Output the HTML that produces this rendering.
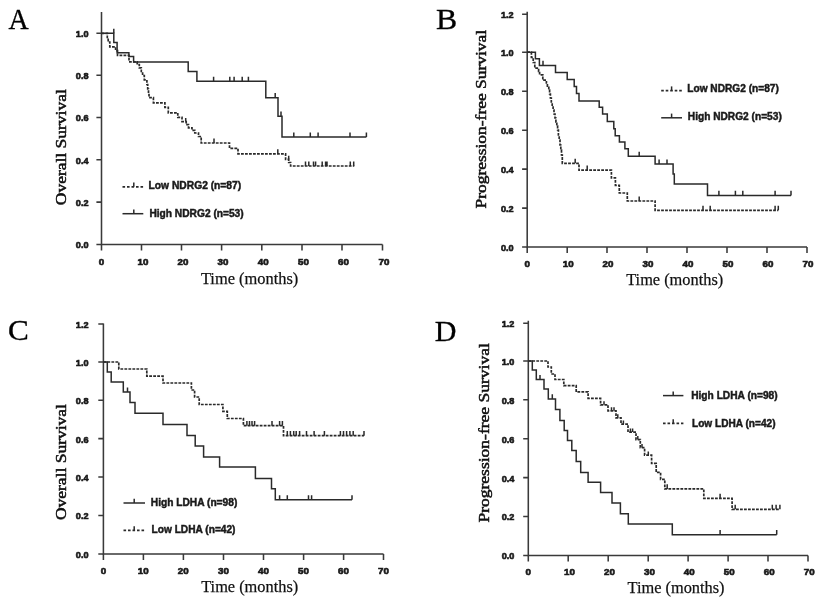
<!DOCTYPE html>
<html><head><meta charset="utf-8"><title>Kaplan-Meier survival curves</title>
<style>
html,body{margin:0;padding:0;background:#fff;}
body{width:822px;height:604px;overflow:hidden;font-family:"Liberation Sans",sans-serif;}
svg{display:block;will-change:transform;opacity:0.999;filter:blur(0.35px)}
.ax{fill:none;stroke:#3a3a3a;stroke-width:1.55}
.cs{fill:none;stroke:#2a2a2a;stroke-width:1.5;stroke-linejoin:miter}
.cd{fill:none;stroke:#2a2a2a;stroke-width:1.7;stroke-dasharray:2.8 1.2}
.tk{font-family:"Liberation Sans",sans-serif;font-weight:bold;font-size:9.5px;fill:#1a1a1a;stroke:#1a1a1a;stroke-width:0.65px}
.lg{font-family:"Liberation Sans",sans-serif;font-weight:bold;font-size:10px;fill:#1a1a1a;stroke:#1a1a1a;stroke-width:0.45px}
.ttl{font-family:"Liberation Serif",serif;font-size:17.5px;fill:#111;stroke:#111;stroke-width:0.25px}
.yt{font-size:15.4px;stroke-width:0.5px}
.pl{font-family:"Liberation Serif",serif;font-size:30px;fill:#000;stroke:#000;stroke-width:0.3px}
</style></head>
<body>
<svg width="822" height="604" viewBox="0 0 822 604">
<rect width="822" height="604" fill="#ffffff"/>
<text transform="translate(8.6 29.3) scale(0.93 1)" class="pl">A</text>
<path d="M101.5 12V244.5H382.5" class="ax"/>
<path d="M96.4 33.3H101.5M96.4 75.3H101.5M96.4 117.4H101.5M96.4 159.8H101.5M96.4 202.1H101.5M96.4 244.5H101.5M101.5 244.5v5.9M141.5 244.5v5.9M181.5 244.5v5.9M221.6 244.5v5.9M261.8 244.5v5.9M302 244.5v5.9M342 244.5v5.9M382.5 244.5v5.9" class="ax"/>
<text transform="translate(88.5 37.2) scale(0.96 1)" class="tk" text-anchor="end">1.0</text>
<text transform="translate(88.5 79.2) scale(0.96 1)" class="tk" text-anchor="end">0.8</text>
<text transform="translate(88.5 121.3) scale(0.96 1)" class="tk" text-anchor="end">0.6</text>
<text transform="translate(88.5 163.7) scale(0.96 1)" class="tk" text-anchor="end">0.4</text>
<text transform="translate(88.5 206.0) scale(0.96 1)" class="tk" text-anchor="end">0.2</text>
<text transform="translate(88.5 248.4) scale(0.96 1)" class="tk" text-anchor="end">0.0</text>
<text transform="translate(101.5 264.6) scale(1.03 1)" class="tk" text-anchor="middle">0</text>
<text transform="translate(142.9 264.6) scale(1.03 1)" class="tk" text-anchor="middle">10</text>
<text transform="translate(182.9 264.6) scale(1.03 1)" class="tk" text-anchor="middle">20</text>
<text transform="translate(223.0 264.6) scale(1.03 1)" class="tk" text-anchor="middle">30</text>
<text transform="translate(263.2 264.6) scale(1.03 1)" class="tk" text-anchor="middle">40</text>
<text transform="translate(303.4 264.6) scale(1.03 1)" class="tk" text-anchor="middle">50</text>
<text transform="translate(343.4 264.6) scale(1.03 1)" class="tk" text-anchor="middle">60</text>
<text transform="translate(383.9 264.6) scale(1.03 1)" class="tk" text-anchor="middle">70</text>
<text transform="translate(65.9 147.2) rotate(-90)" class="ttl yt" text-anchor="middle" textLength="116" lengthAdjust="spacingAndGlyphs">Overall Survival</text>
<text x="249.6" y="283.5" class="ttl" text-anchor="middle" textLength="97.4" lengthAdjust="spacingAndGlyphs">Time (months)</text>
<path d="M101.5 33.3 L113.8 33.3 L113.8 42.6 L117.1 42.6 L117.1 52.7 L128.9 52.7 L128.9 56.6 L133.6 56.6 L133.6 62.0 L188.2 62.0 L188.2 71.6 L196.9 71.6 L196.9 81.3 L265.8 81.3 L265.8 97.7 L278.0 97.7 L278.0 116.2 L282.0 116.2 L282.0 137.0 L366.4 137.0" class="cs"/>
<path d="M113.8 33.3v-4.6M213.6 81.3v-4.6M229.8 81.3v-4.6M234.1 81.3v-4.6M242.2 81.3v-4.6M248.4 81.3v-4.6M275.2 97.7v-4.6M281.0 116.2v-4.6M293.8 137.0v-4.6M310.3 137.0v-4.6M318.1 137.0v-4.6M350.0 137.0v-4.6M366.4 137.0v-4.6" class="cs"/>
<path d="M101.5 33.3 L107.3 33.3 L107.3 37.5 L108.2 37.5 L108.2 42.0 L109.8 42.0 L109.8 46.8 L115.6 46.8 L115.6 50.5 L117.5 50.5 L117.5 55.3 L129.0 55.3 L129.0 61.8 L137.2 61.8 L137.2 64.5 L139.3 64.5 L139.3 67.8 L141.3 67.8 L141.3 71.5 L142.6 71.5 L142.6 75.5 L144.3 75.5 L144.3 79.8 L146.9 79.8 L146.9 84.5 L147.7 84.5 L147.7 89.0 L148.5 89.0 L148.5 93.5 L149.0 93.5 L149.0 97.7 L153.4 97.7 L153.4 102.8 L164.9 102.8 L164.9 107.4 L168.3 107.4 L168.3 112.8 L177.8 112.8 L177.8 117.4 L182.0 117.4 L182.0 121.6 L186.2 121.6 L186.2 124.6 L188.5 124.6 L188.5 127.8 L192.0 127.8 L192.0 130.4 L194.8 130.4 L194.8 133.0 L198.5 133.0 L198.5 136.5 L201.2 136.5 L201.2 143.0 L229.5 143.0 L229.5 148.4 L238.0 148.4 L238.0 153.8 L285.6 153.8 L285.6 159.3 L288.7 159.3 L288.7 162.5 L290.6 162.5 L290.6 166.0 L354.3 166.0" class="cd"/>
<path d="M185.7 121.6v-3.5M214.0 143.0v-4.6M277.8 153.8v-4.6M288.7 159.3v-3.5M305.5 166.0v-4.6M308.8 166.0v-4.6M313.5 166.0v-4.6M315.6 166.0v-4.6M322.2 166.0v-4.6M325.6 166.0v-4.6M327.0 166.0v-4.6M350.3 166.0v-4.6M353.7 166.0v-4.6" class="cs"/>
<path d="M122.5 186.8H143.3" class="cd" style="stroke-dasharray:2.6 1.9"/>
<path d="M133.8 186.8v-4.2" class="cs"/>
<text x="148.6" y="189.2" class="lg" textLength="92.6" lengthAdjust="spacingAndGlyphs">Low NDRG2 (n=87)</text>
<path d="M122.5 213.7H143.3" class="cs"/>
<path d="M133.8 213.7v-4.2" class="cs"/>
<text x="149.4" y="216.7" class="lg" textLength="94.3" lengthAdjust="spacingAndGlyphs">High NDRG2 (n=53)</text>
<text transform="translate(436 29.3) scale(1.06 1)" class="pl">B</text>
<path d="M527.2 11.7V247H807" class="ax"/>
<path d="M522.1 14.2H527.2M522.1 52.2H527.2M522.1 91.2H527.2M522.1 130.2H527.2M522.1 169.1H527.2M522.1 208.1H527.2M522.1 247H527.2M527.2 247v5.9M567.2 247v5.9M607 247v5.9M647 247v5.9M687 247v5.9M727 247v5.9M767 247v5.9M807 247v5.9" class="ax"/>
<text transform="translate(513.7 18.1) scale(0.96 1)" class="tk" text-anchor="end">1.2</text>
<text transform="translate(513.7 56.1) scale(0.96 1)" class="tk" text-anchor="end">1.0</text>
<text transform="translate(513.7 95.1) scale(0.96 1)" class="tk" text-anchor="end">0.8</text>
<text transform="translate(513.7 134.1) scale(0.96 1)" class="tk" text-anchor="end">0.6</text>
<text transform="translate(513.7 173.0) scale(0.96 1)" class="tk" text-anchor="end">0.4</text>
<text transform="translate(513.7 212.0) scale(0.96 1)" class="tk" text-anchor="end">0.2</text>
<text transform="translate(513.7 250.9) scale(0.96 1)" class="tk" text-anchor="end">0.0</text>
<text transform="translate(527.2 266.6) scale(1.03 1)" class="tk" text-anchor="middle">0</text>
<text transform="translate(568.2 266.6) scale(1.03 1)" class="tk" text-anchor="middle">10</text>
<text transform="translate(608.0 266.6) scale(1.03 1)" class="tk" text-anchor="middle">20</text>
<text transform="translate(648.0 266.6) scale(1.03 1)" class="tk" text-anchor="middle">30</text>
<text transform="translate(688.0 266.6) scale(1.03 1)" class="tk" text-anchor="middle">40</text>
<text transform="translate(728.0 266.6) scale(1.03 1)" class="tk" text-anchor="middle">50</text>
<text transform="translate(768.0 266.6) scale(1.03 1)" class="tk" text-anchor="middle">60</text>
<text transform="translate(808.0 266.6) scale(1.03 1)" class="tk" text-anchor="middle">70</text>
<text transform="translate(485.6 119.2) rotate(-90)" class="ttl yt" text-anchor="middle" textLength="178.7" lengthAdjust="spacingAndGlyphs">Progression-free Survival</text>
<text x="674.7" y="285.2" class="ttl" text-anchor="middle" textLength="97" lengthAdjust="spacingAndGlyphs">Time (months)</text>
<path d="M527.2 52.2 L535.4 52.2 L535.4 58.8 L539.4 58.8 L539.4 65.5 L555.5 65.5 L555.5 72.4 L567.2 72.4 L567.2 79.6 L574.2 79.6 L574.2 86.6 L576.5 86.6 L576.5 93.6 L579.0 93.6 L579.0 100.9 L599.2 100.9 L599.2 107.3 L602.6 107.3 L602.6 114.0 L607.3 114.0 L607.3 121.4 L613.8 121.4 L613.8 128.8 L615.2 128.8 L615.2 135.8 L619.4 135.8 L619.4 142.1 L624.9 142.1 L624.9 148.7 L628.3 148.7 L628.3 156.3 L655.1 156.3 L655.1 164.0 L673.1 164.0 L673.1 174.0 L674.3 174.0 L674.3 184.1 L707.5 184.1 L707.5 195.4 L791.0 195.4" class="cs"/>
<path d="M543.0 65.4v-4.6M639.2 156.3v-4.6M659.1 164.0v-4.6M667.0 164.0v-4.6M718.9 195.4v-4.6M735.4 195.4v-4.6M742.8 195.4v-4.6M775.1 195.4v-4.6M791.0 195.4v-4.6" class="cs"/>
<path d="M527.2 52.2 L531.4 52.2 L531.4 57.4 L533.2 57.4 L533.2 62.5 L534.8 62.5 L534.8 68.1 L538.6 68.1 L538.6 71.5 L539.6 71.5 L539.6 74.8 L542.8 74.8 L542.8 80.2 L546.4 80.2 L546.4 83.0 L547.4 83.0 L547.4 86.2 L548.8 86.2 L548.8 90.0 L549.6 90.0 L549.6 94.0 L550.4 94.0 L550.4 98.0 L551.3 98.0 L551.3 102.0 L552.2 102.0 L552.2 106.0 L553.1 106.0 L553.1 110.0 L554.0 110.0 L554.0 114.0 L555.0 114.0 L555.0 118.0 L555.9 118.0 L555.9 122.0 L556.8 122.0 L556.8 126.0 L557.6 126.0 L557.6 130.0 L558.4 130.0 L558.4 135.0 L559.2 135.0 L559.2 140.0 L560.0 140.0 L560.0 145.0 L560.8 145.0 L560.8 150.0 L561.5 150.0 L561.5 155.0 L562.3 155.0 L562.3 163.3 L579.0 163.3 L579.0 170.2 L611.4 170.2 L611.4 177.9 L615.4 177.9 L615.4 185.4 L619.3 185.4 L619.3 193.0 L627.3 193.0 L627.3 201.0 L655.1 201.0 L655.1 210.3 L778.3 210.3" class="cd"/>
<path d="M575.2 163.3v-4.6M587.2 170.2v-4.6M639.2 201.0v-4.6M703.0 210.3v-4.6M710.2 210.3v-4.6M775.1 210.3v-4.6M778.3 210.3v-4.6" class="cs"/>
<path d="M661.2 90.6H682" class="cd" style="stroke-dasharray:2.6 1.9"/>
<path d="M671.6 90.6v-4.2" class="cs"/>
<text x="687.3" y="92.2" class="lg" textLength="91.5" lengthAdjust="spacingAndGlyphs">Low NDRG2 (n=87)</text>
<path d="M661.2 117.8H682" class="cs"/>
<path d="M671.6 117.8v-4.2" class="cs"/>
<text x="687.8" y="119.8" class="lg" textLength="94" lengthAdjust="spacingAndGlyphs">High NDRG2 (n=53)</text>
<text transform="translate(8.1 340.4) scale(1.04 1)" class="pl">C</text>
<path d="M103.4 323.5V554H383.5" class="ax"/>
<path d="M98.30000000000001 324H103.4M98.30000000000001 362H103.4M98.30000000000001 400.3H103.4M98.30000000000001 438.6H103.4M98.30000000000001 477H103.4M98.30000000000001 515.5H103.4M98.30000000000001 554H103.4M103.4 554v5.9M143.4 554v5.9M183.4 554v5.9M223.5 554v5.9M263.5 554v5.9M303.6 554v5.9M343.6 554v5.9M383.5 554v5.9" class="ax"/>
<text transform="translate(88.5 327.9) scale(0.96 1)" class="tk" text-anchor="end">1.2</text>
<text transform="translate(88.5 365.9) scale(0.96 1)" class="tk" text-anchor="end">1.0</text>
<text transform="translate(88.5 404.2) scale(0.96 1)" class="tk" text-anchor="end">0.8</text>
<text transform="translate(88.5 442.5) scale(0.96 1)" class="tk" text-anchor="end">0.6</text>
<text transform="translate(88.5 480.9) scale(0.96 1)" class="tk" text-anchor="end">0.4</text>
<text transform="translate(88.5 519.4) scale(0.96 1)" class="tk" text-anchor="end">0.2</text>
<text transform="translate(88.5 557.9) scale(0.96 1)" class="tk" text-anchor="end">0.0</text>
<text transform="translate(103.4 574.4) scale(1.03 1)" class="tk" text-anchor="middle">0</text>
<text transform="translate(143.3 574.4) scale(1.03 1)" class="tk" text-anchor="middle">10</text>
<text transform="translate(183.3 574.4) scale(1.03 1)" class="tk" text-anchor="middle">20</text>
<text transform="translate(223.4 574.4) scale(1.03 1)" class="tk" text-anchor="middle">30</text>
<text transform="translate(263.4 574.4) scale(1.03 1)" class="tk" text-anchor="middle">40</text>
<text transform="translate(303.5 574.4) scale(1.03 1)" class="tk" text-anchor="middle">50</text>
<text transform="translate(343.5 574.4) scale(1.03 1)" class="tk" text-anchor="middle">60</text>
<text transform="translate(383.4 574.4) scale(1.03 1)" class="tk" text-anchor="middle">70</text>
<text transform="translate(65.9 462.1) rotate(-90)" class="ttl yt" text-anchor="middle" textLength="116" lengthAdjust="spacingAndGlyphs">Overall Survival</text>
<text x="249.7" y="592" class="ttl" text-anchor="middle" textLength="97" lengthAdjust="spacingAndGlyphs">Time (months)</text>
<path d="M103.4 362.0 L107.3 362.0 L107.3 371.9 L111.2 371.9 L111.2 382.0 L123.3 382.0 L123.3 392.0 L130.0 392.0 L130.0 402.6 L135.0 402.6 L135.0 413.3 L163.0 413.3 L163.0 424.4 L187.0 424.4 L187.0 435.4 L195.2 435.4 L195.2 446.0 L203.6 446.0 L203.6 456.9 L219.6 456.9 L219.6 467.1 L255.4 467.1 L255.4 478.6 L271.5 478.6 L271.5 488.8 L275.3 488.8 L275.3 499.8 L352.0 499.8" class="cs"/>
<path d="M127.5 392.0v-4.6M279.6 499.8v-4.6M287.3 499.8v-4.6M308.5 499.8v-4.6M311.6 499.8v-4.6M352.0 499.8v-4.6" class="cs"/>
<path d="M103.4 362.0 L118.8 362.0 L118.8 369.0 L146.8 369.0 L146.8 376.2 L163.0 376.2 L163.0 383.0 L191.4 383.0 L191.4 390.0 L194.6 390.0 L194.6 397.0 L199.2 397.0 L199.2 404.5 L222.9 404.5 L222.9 411.4 L227.3 411.4 L227.3 418.5 L243.4 418.5 L243.4 425.7 L283.5 425.7 L283.5 435.7 L364.0 435.7" class="cd"/>
<path d="M246.9 425.7v-4.6M249.5 425.7v-4.6M252.0 425.7v-4.6M254.6 425.7v-4.6M272.0 425.7v-4.6M279.6 425.7v-4.6M282.4 425.7v-4.6M287.3 435.7v-4.6M290.4 435.7v-4.6M293.7 435.7v-4.6M296.2 435.7v-4.6M299.6 435.7v-4.6M306.5 435.7v-4.6M314.1 435.7v-4.6M324.4 435.7v-4.6M340.4 435.7v-4.6M343.5 435.7v-4.6M346.6 435.7v-4.6M349.9 435.7v-4.6M353.2 435.7v-4.6M364.0 435.7v-4.6" class="cs"/>
<path d="M123.5 503H145" class="cs"/>
<path d="M134.2 503v-4.2" class="cs"/>
<text x="150.8" y="505.5" class="lg" textLength="86.5" lengthAdjust="spacingAndGlyphs">High LDHA (n=98)</text>
<path d="M123.5 530.4H145" class="cd" style="stroke-dasharray:2.6 1.9"/>
<path d="M134.2 530.4v-4.2" class="cs"/>
<text x="151.5" y="533.1" class="lg" textLength="84" lengthAdjust="spacingAndGlyphs">Low LDHA (n=42)</text>
<text transform="translate(434.8 341.1) scale(1.0 1)" class="pl">D</text>
<path d="M528.3 320.8V555.5H808" class="ax"/>
<path d="M523.1999999999999 323.2H528.3M523.1999999999999 361H528.3M523.1999999999999 399.8H528.3M523.1999999999999 438.7H528.3M523.1999999999999 477.6H528.3M523.1999999999999 516.5H528.3M523.1999999999999 555.5H528.3M528.3 555.5v5.9M568.2 555.5v5.9M608.2 555.5v5.9M648.2 555.5v5.9M688.1 555.5v5.9M728.1 555.5v5.9M768 555.5v5.9M808 555.5v5.9" class="ax"/>
<text transform="translate(514.3 327.1) scale(0.96 1)" class="tk" text-anchor="end">1.2</text>
<text transform="translate(514.3 364.9) scale(0.96 1)" class="tk" text-anchor="end">1.0</text>
<text transform="translate(514.3 403.7) scale(0.96 1)" class="tk" text-anchor="end">0.8</text>
<text transform="translate(514.3 442.6) scale(0.96 1)" class="tk" text-anchor="end">0.6</text>
<text transform="translate(514.3 481.5) scale(0.96 1)" class="tk" text-anchor="end">0.4</text>
<text transform="translate(514.3 520.4) scale(0.96 1)" class="tk" text-anchor="end">0.2</text>
<text transform="translate(514.3 559.4) scale(0.96 1)" class="tk" text-anchor="end">0.0</text>
<text transform="translate(528.3 575.2) scale(1.03 1)" class="tk" text-anchor="middle">0</text>
<text transform="translate(569.4 575.2) scale(1.03 1)" class="tk" text-anchor="middle">10</text>
<text transform="translate(609.4 575.2) scale(1.03 1)" class="tk" text-anchor="middle">20</text>
<text transform="translate(649.4 575.2) scale(1.03 1)" class="tk" text-anchor="middle">30</text>
<text transform="translate(689.3 575.2) scale(1.03 1)" class="tk" text-anchor="middle">40</text>
<text transform="translate(729.3 575.2) scale(1.03 1)" class="tk" text-anchor="middle">50</text>
<text transform="translate(769.2 575.2) scale(1.03 1)" class="tk" text-anchor="middle">60</text>
<text transform="translate(809.2 575.2) scale(1.03 1)" class="tk" text-anchor="middle">70</text>
<text transform="translate(489.1 432.9) rotate(-90)" class="ttl yt" text-anchor="middle" textLength="179.3" lengthAdjust="spacingAndGlyphs">Progression-free Survival</text>
<text x="676" y="593.1" class="ttl" text-anchor="middle" textLength="97" lengthAdjust="spacingAndGlyphs">Time (months)</text>
<path d="M528.3 361.0 L532.3 361.0 L532.3 370.0 L536.3 370.0 L536.3 379.5 L544.0 379.5 L544.0 388.9 L548.3 388.9 L548.3 398.9 L555.5 398.9 L555.5 409.4 L559.9 409.4 L559.9 420.5 L564.2 420.5 L564.2 430.5 L567.5 430.5 L567.5 440.5 L571.8 440.5 L571.8 450.5 L576.2 450.5 L576.2 461.5 L580.7 461.5 L580.7 472.4 L588.1 472.4 L588.1 482.3 L600.6 482.3 L600.6 492.5 L612.0 492.5 L612.0 503.0 L620.4 503.0 L620.4 513.7 L628.3 513.7 L628.3 524.1 L672.3 524.1 L672.3 534.7 L776.7 534.7" class="cs"/>
<path d="M540.0 379.5v-4.6M552.3 398.9v-4.6M720.1 534.7v-4.6M776.7 534.7v-4.6" class="cs"/>
<path d="M528.3 361.0 L548.0 361.0 L548.0 367.0 L551.3 367.0 L551.3 374.0 L555.0 374.0 L555.0 379.5 L563.8 379.5 L563.8 385.6 L576.2 385.6 L576.2 391.9 L588.1 391.9 L588.1 398.3 L600.6 398.3 L600.6 404.8 L608.0 404.8 L608.0 410.8 L616.0 410.8 L616.0 417.8 L621.0 417.8 L621.0 424.1 L628.0 424.1 L628.0 432.1 L636.0 432.1 L636.0 439.6 L640.3 439.6 L640.3 447.6 L644.6 447.6 L644.6 455.1 L651.6 455.1 L651.6 463.4 L656.2 463.4 L656.2 472.4 L660.6 472.4 L660.6 479.3 L664.8 479.3 L664.8 488.9 L703.8 488.9 L703.8 498.3 L732.1 498.3 L732.1 509.3 L779.9 509.3" class="cd"/>
<path d="M604.0 404.8v-3.5M611.5 410.8v-3.5M614.0 410.8v-3.5M617.8 417.8v-3.5M623.4 424.1v-3.5M637.8 439.6v-3.5M642.0 447.6v-3.5M630.4 432.1v-3.5M632.6 432.1v-3.5M648.3 455.1v-3.5M667.2 488.9v-4.6M720.1 498.3v-4.6M735.2 509.3v-4.6M772.3 509.3v-4.6M776.1 509.3v-4.6M779.9 509.3v-4.6" class="cs"/>
<path d="M663 395.6H683.4" class="cs"/>
<path d="M673.2 395.6v-4.2" class="cs"/>
<text x="691.2" y="399.1" class="lg" textLength="86.5" lengthAdjust="spacingAndGlyphs">High LDHA (n=98)</text>
<path d="M663 423.4H683.4" class="cd" style="stroke-dasharray:2.6 1.9"/>
<path d="M673.2 423.4v-4.2" class="cs"/>
<text x="692" y="426.6" class="lg" textLength="83.5" lengthAdjust="spacingAndGlyphs">Low LDHA (n=42)</text>
</svg>
</body></html>
